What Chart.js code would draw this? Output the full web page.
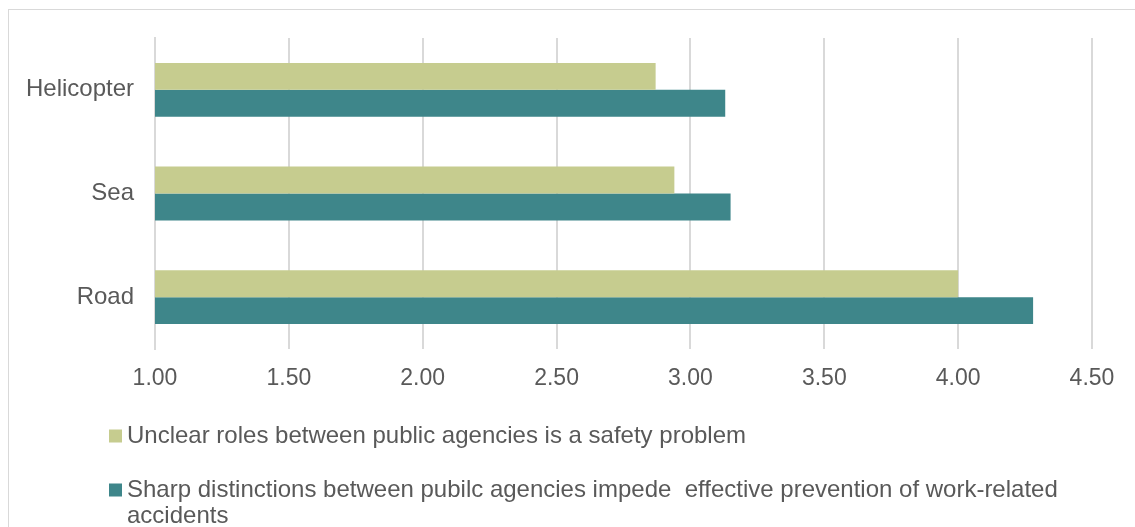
<!DOCTYPE html>
<html>
<head>
<meta charset="utf-8">
<script src="https://cdn.jsdelivr.net/npm/chart.js@4"></script>
<style>
  html, body { margin: 0; padding: 0; background: #fff; }
  #wrap { width: 1135px; height: 527px; position: relative; }
</style>
</head>
<body>
<div id="wrap"><canvas id="modeChart" width="1135" height="527"></canvas></div>
<script>
const modes = ["Helicopter", "Sea", "Road"];
const unclearRoles = [2.87, 2.94, 4.00];
const sharpDistinctions = [3.13, 3.15, 4.28];
const seriesNames = [
  "Unclear roles between public agencies is a safety problem",
  "Sharp distinctions between pubilc agencies impede  effective prevention of work-related accidents"
];
const seriesColors = ["#c6cc8f", "#3e868a"];

const FONT = "'Liberation Sans', Arial, sans-serif";
const TEXT = "#595959";

// frame line along the top and left edge
const framePlugin = {
  id: "frame",
  beforeDraw(chart) {
    const ctx = chart.ctx;
    ctx.save();
    ctx.fillStyle = "#fff";
    ctx.fillRect(0, 0, chart.width, chart.height);
    ctx.strokeStyle = "#d9d9d9";
    ctx.lineWidth = 1;
    ctx.strokeRect(8.5, 9.5, chart.width + 10, chart.height + 10);
    ctx.restore();
  }
};

// stacked legend under the axis, long labels wrap
const legendPlugin = {
  id: "wrapLegend",
  afterDraw(chart) {
    const ctx = chart.ctx;
    const x = 109, box = 13, maxW = 960, lineH = 26;
    const rows = [436, 490];
    ctx.save();
    ctx.font = "24px " + FONT;
    ctx.textBaseline = "middle";
    chart.data.datasets.forEach((ds, i) => {
      const words = ds.label.split(" ");
      const lines = [];
      let cur = "";
      words.forEach(w => {
        const test = cur === "" ? w : cur + " " + w;
        if (ctx.measureText(test).width > maxW && cur !== "") {
          lines.push(cur);
          cur = w;
        } else {
          cur = test;
        }
      });
      lines.push(cur);
      const y = rows[i];
      ctx.fillStyle = ds.backgroundColor;
      ctx.fillRect(x, y - box / 2, box, box);
      ctx.fillStyle = TEXT;
      lines.forEach((ln, k) => ctx.fillText(ln, x + box + 5, y + k * lineH));
    });
    ctx.restore();
  }
};

new Chart("modeChart", {
  type: "bar",
  data: {
    labels: modes,
    datasets: [
      { label: seriesNames[0], data: unclearRoles, backgroundColor: seriesColors[0] },
      { label: seriesNames[1], data: sharpDistinctions, backgroundColor: seriesColors[1] }
    ]
  },
  options: {
    indexAxis: "y",
    responsive: false,
    animation: false,
    categoryPercentage: 0.52,
    barPercentage: 1,
    layout: { padding: { left: 0, right: 43, top: 38, bottom: 0 } },
    plugins: {
      legend: { display: false },
      tooltip: { enabled: false }
    },
    scales: {
      x: {
        min: 1,
        max: 4.5,
        ticks: {
          stepSize: 0.5,
          color: TEXT,
          font: { family: FONT, size: 23 },
          padding: 16,
          callback: v => v.toFixed(2)
        },
        grid: { color: "#d9d9d9", lineWidth: 2, drawTicks: false },
        border: { display: false },
        afterFit(scale) { scale.height = 178; }
      },
      y: {
        ticks: {
          color: TEXT,
          font: { family: FONT, size: 24 },
          padding: 21
        },
        grid: { display: false, drawTicks: false },
        border: { color: "#d9d9d9", width: 2 },
        afterFit(scale) { scale.width = 155; }
      }
    }
  },
  plugins: [framePlugin, legendPlugin]
});
</script>
</body>
</html>
